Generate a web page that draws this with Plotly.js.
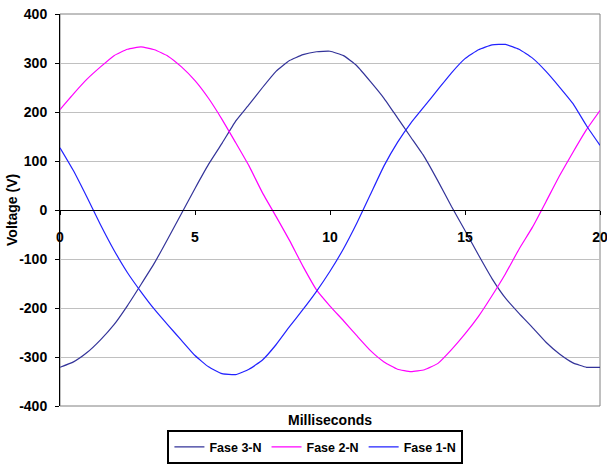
<!DOCTYPE html>
<html>
<head>
<meta charset="utf-8">
<script src="https://cdn.plot.ly/plotly-3.0.1.min.js"></script>
<style>html,body{margin:0;padding:0;background:#fff;}#chart{width:607px;height:466px;}</style>
</head>
<body>
<div id="chart"></div>
<script>
// time in milliseconds
const timeMs = [0,0.5,1,1.5,2,2.5,3,3.5,4,4.5,5,5.5,6,6.5,7,7.5,8,8.5,9,9.5,10,
                10.5,11,11.5,12,12.5,13,13.5,14,14.5,15,15.5,16,16.5,17,17.5,18,18.5,19,19.5,20];
const fase3N = [-321,-310,-291,-265,-234,-195,-152,-108,-58,-7,44,93,136,181,215,250,283,305,317,323,324,
                315,294,262,228,188,148,108,59,7,-42,-92,-140,-180,-211,-240,-270,-294,-312,-321,-321];
const fase2N = [205,237,267,292,315,328,333,327,314,292,264,228,185,138,90,35,-13,-62,-115,-163,-196,
                -226,-257,-287,-310,-325,-330,-326,-313,-285,-253,-217,-175,-130,-80,-35,17,70,118,164,203];
const fase1N = [127,80,26,-30,-82,-128,-167,-203,-235,-266,-297,-320,-334,-336,-325,-306,-275,-238,-203,-166,-125,
                -79,-26,32,90,138,178,212,246,280,309,327,337,338,328,310,283,251,217,172,132];
const seriesNames = ['Fase 3-N','Fase 2-N','Fase 1-N'];
const xTickVals = [0,5,10,15,20];
const yTickVals = [-400,-300,-200,-100,0,100,200,300,400];

const FONT = 'Liberation Sans, Arial, sans-serif';
const colors = ['#333399','#ff00ff','#2222ff'];
const data = [fase3N, fase2N, fase1N].map((ys, i) => ({
  x: timeMs, y: ys, name: seriesNames[i], type: 'scatter', mode: 'lines',
  line: {color: colors[i], width: 1.2, shape: 'spline', smoothing: 0.4}
}));

const tf = {family: FONT, size: 14, color: '#000', weight: 'bold'};
const layout = {
  width: 607, height: 466,
  margin: {l: 60, r: 7, t: 14, b: 60, autoexpand: false},
  paper_bgcolor: '#fff', plot_bgcolor: '#fff',
  font: tf,
  showlegend: true,
  xaxis: {
    range: [0, 20], tickvals: xTickVals, ticktext: xTickVals.map(String),
    anchor: 'free', position: 0.5,
    showline: true, linecolor: '#000', linewidth: 1,
    ticks: 'outside', ticklen: 4, tickcolor: '#000',
    ticklabelstandoff: 10, ticklabeloverflow: 'allow',
    showgrid: false, zeroline: false,
    tickfont: tf
  },
  yaxis: {
    range: [-400, 400], tickvals: yTickVals, ticktext: yTickVals.map(String),
    showline: true, linecolor: '#000', linewidth: 1,
    ticks: 'outside', ticklen: 4, tickcolor: '#000',
    ticklabelstandoff: 5,
    showgrid: true, gridcolor: '#c0c0c0', gridwidth: 1,
    zeroline: false,
    tickfont: tf
  },
  shapes: [
    {type: 'rect', xref: 'paper', yref: 'paper', x0: 0, x1: 1, y0: 0, y1: 1,
     line: {color: '#808080', width: 1}, layer: 'below'}
  ],
  annotations: [
    {text: 'Milliseconds', xref: 'paper', yref: 'paper', x: 0.5, y: -0.036,
     xanchor: 'center', yanchor: 'middle', showarrow: false, font: tf},
    {text: 'Voltage (V)', xref: 'paper', yref: 'paper', x: -0.089, y: 0.5,
     xanchor: 'center', yanchor: 'middle', textangle: -90, showarrow: false, font: tf}
  ],
  legend: {
    orientation: 'h', x: 0.473, xanchor: 'center', y: -0.062, yanchor: 'top',
    bordercolor: '#000', borderwidth: 2, bgcolor: '#fff',
    font: {family: FONT, size: 12.5, color: '#000', weight: 'bold'},
    itemwidth: 30, tracegroupgap: 0
  }
};

Plotly.newPlot('chart', data, layout, {displayModeBar: false, staticPlot: true});
</script>
</body>
</html>
